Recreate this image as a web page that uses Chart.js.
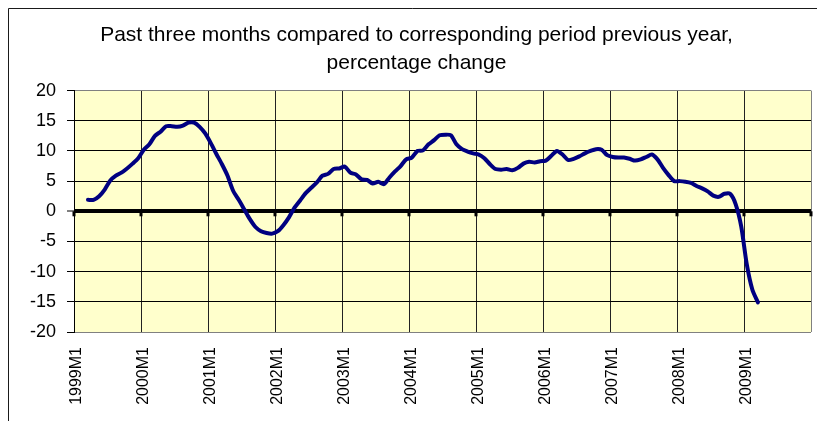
<!DOCTYPE html>
<html><head><meta charset="utf-8">
<script src="https://cdn.jsdelivr.net/npm/chart.js@4.4.1/dist/chart.umd.min.js"></script>
<style>html,body{margin:0;padding:0;background:#fff}#wrap{width:817px;height:421px}</style>
</head><body><div id="wrap"><canvas id="c" width="817" height="421"></canvas></div>
<script>
const titleLines = ["Past three months compared to corresponding period previous year,", "percentage change"];
const years = [1999, 2000, 2001, 2002, 2003, 2004, 2005, 2006, 2007, 2008, 2009];
const monthsPerYear = 12;
const categories = [];
years.forEach(y => { for (let m = 1; m <= monthsPerYear; m++) categories.push(y + "M" + m); });
const yMin = -20, yMax = 20, yStep = 5;

// monthly values from 1999M1; first two months have no value
const growth = [
  null, null, 1.9, 1.9, 2.5, 3.6, 5.1, 5.9, 6.4, 7.1, 7.9, 8.8,          // 1999
  10.2, 11.1, 12.5, 13.2, 14.1, 14.1, 14.0, 14.2, 14.7, 14.7, 14.0, 12.9, // 2000
  11.3, 9.5, 7.8, 5.9, 3.4, 1.9, 0.3, -1.3, -2.6, -3.3, -3.6, -3.7,      // 2001
  -3.3, -2.3, -1.0, 0.6, 1.8, 3.0, 3.9, 4.8, 5.9, 6.2, 7.0, 7.1,          // 2002
  7.4, 6.4, 6.1, 5.3, 5.2, 4.6, 4.9, 4.5, 5.6, 6.6, 7.5, 8.6,             // 2003
  8.9, 10.0, 10.1, 11.1, 11.8, 12.6, 12.7, 12.6, 11.1, 10.3, 9.9, 9.6,    // 2004
  9.4, 8.8, 7.8, 7.0, 6.9, 7.0, 6.8, 7.2, 7.9, 8.2, 8.1, 8.3,             // 2005
  8.4, 9.2, 10.0, 9.4, 8.5, 8.7, 9.1, 9.6, 10.0, 10.3, 10.2, 9.3,         // 2006
  9.0, 8.9, 8.9, 8.7, 8.4, 8.6, 9.0, 9.4, 8.6, 7.2, 6.0, 5.0,             // 2007
  5.0, 4.9, 4.7, 4.2, 3.8, 3.3, 2.6, 2.4, 2.9, 2.9, 1.2, -2.5,            // 2008
  -8.8, -13.0, -15.1                                                     // 2009
];

const FONT = "'Liberation Sans', Arial, sans-serif";

const decor = {
  id: 'decor',
  beforeDraw(chart) {
    const c = chart.ctx, a = chart.chartArea;
    c.save();
    c.fillStyle = '#ffffcc';
    c.fillRect(a.left, a.top, a.right - a.left, a.bottom - a.top);
    // outer chart frame (cropped on right and bottom)
    c.strokeStyle = '#1a1a1a';
    c.lineWidth = 1;
    c.beginPath();
    c.moveTo(8.5, 421); c.lineTo(8.5, 8.5); c.lineTo(817, 8.5);
    c.stroke();
    c.restore();
  },
  beforeDatasetsDraw(chart) {
    const c = chart.ctx, xs = chart.scales.x, ys = chart.scales.y;
    const half = (xs.getPixelForValue(1) - xs.getPixelForValue(0)) / 2;
    const y0 = ys.getPixelForValue(0);
    c.save();
    c.fillStyle = '#000';
    for (let i = 0; i <= categories.length; i += monthsPerYear) {
      const x = xs.getPixelForValue(i) - half;
      c.fillRect(Math.round(x) - 1.5, y0, 3, 5);
    }
    c.restore();
  }
};

const xGridColor = ctx => {
  if (ctx.type !== 'tick') return '#808080';
  const i = (ctx.index !== undefined) ? ctx.index : (ctx.tick ? ctx.tick.value : 1);
  return (i % monthsPerYear === 0) ? '#222' : 'rgba(0,0,0,0)';
};

new Chart(document.getElementById('c'), {
  type: 'line',
  data: {
    labels: categories,
    datasets: [{
      data: growth,
      borderColor: '#000080',
      borderWidth: 4,
      pointRadius: 0,
      tension: 0.25,
      fill: false,
      borderCapStyle: 'round',
      borderJoinStyle: 'round'
    }]
  },
  options: {
    responsive: false,
    animation: false,
    devicePixelRatio: 1,
    layout: { padding: { top: 8, right: 6, left: 22, bottom: 0 } },
    plugins: {
      legend: { display: false },
      tooltip: { enabled: false },
      title: {
        display: true,
        text: titleLines,
        color: '#000',
        font: { family: FONT, size: 21, weight: 'normal', lineHeight: 1.3 },
        padding: { top: 14, bottom: 14 }
      }
    },
    scales: {
      x: {
        type: 'category',
        offset: true,
        border: { display: false },
        grid: {
          offset: true,
          drawTicks: false,
          color: xGridColor,
          lineWidth: 1
        },
        ticks: {
          autoSkip: false,
          maxRotation: 90,
          minRotation: 90,
          padding: 15,
          color: '#000',
          font: { family: FONT, size: 16 },
          callback: (v, i) => (i % monthsPerYear === 0) ? categories[i] : ''
        },
        afterFit: s => { s.height = 89; s.paddingLeft = 0; s.paddingRight = 0; }
      },
      y: {
        min: yMin, max: yMax,
        border: { display: true, color: '#000', width: 1 },
        grid: {
          color: ctx => (ctx.tick && (ctx.tick.value === yMax || ctx.tick.value === yMin)) ? '#808080' : '#000',
          lineWidth: ctx => (ctx.tick && ctx.tick.value === 0) ? 4 : 1,
          tickColor: '#000',
          tickLength: 7,
          tickWidth: 1
        },
        ticks: {
          stepSize: yStep,
          padding: 11,
          color: '#000',
          font: { family: FONT, size: 18 }
        },
        afterFit: s => { s.width = 52; }
      }
    }
  },
  plugins: [decor]
});
</script></body></html>
